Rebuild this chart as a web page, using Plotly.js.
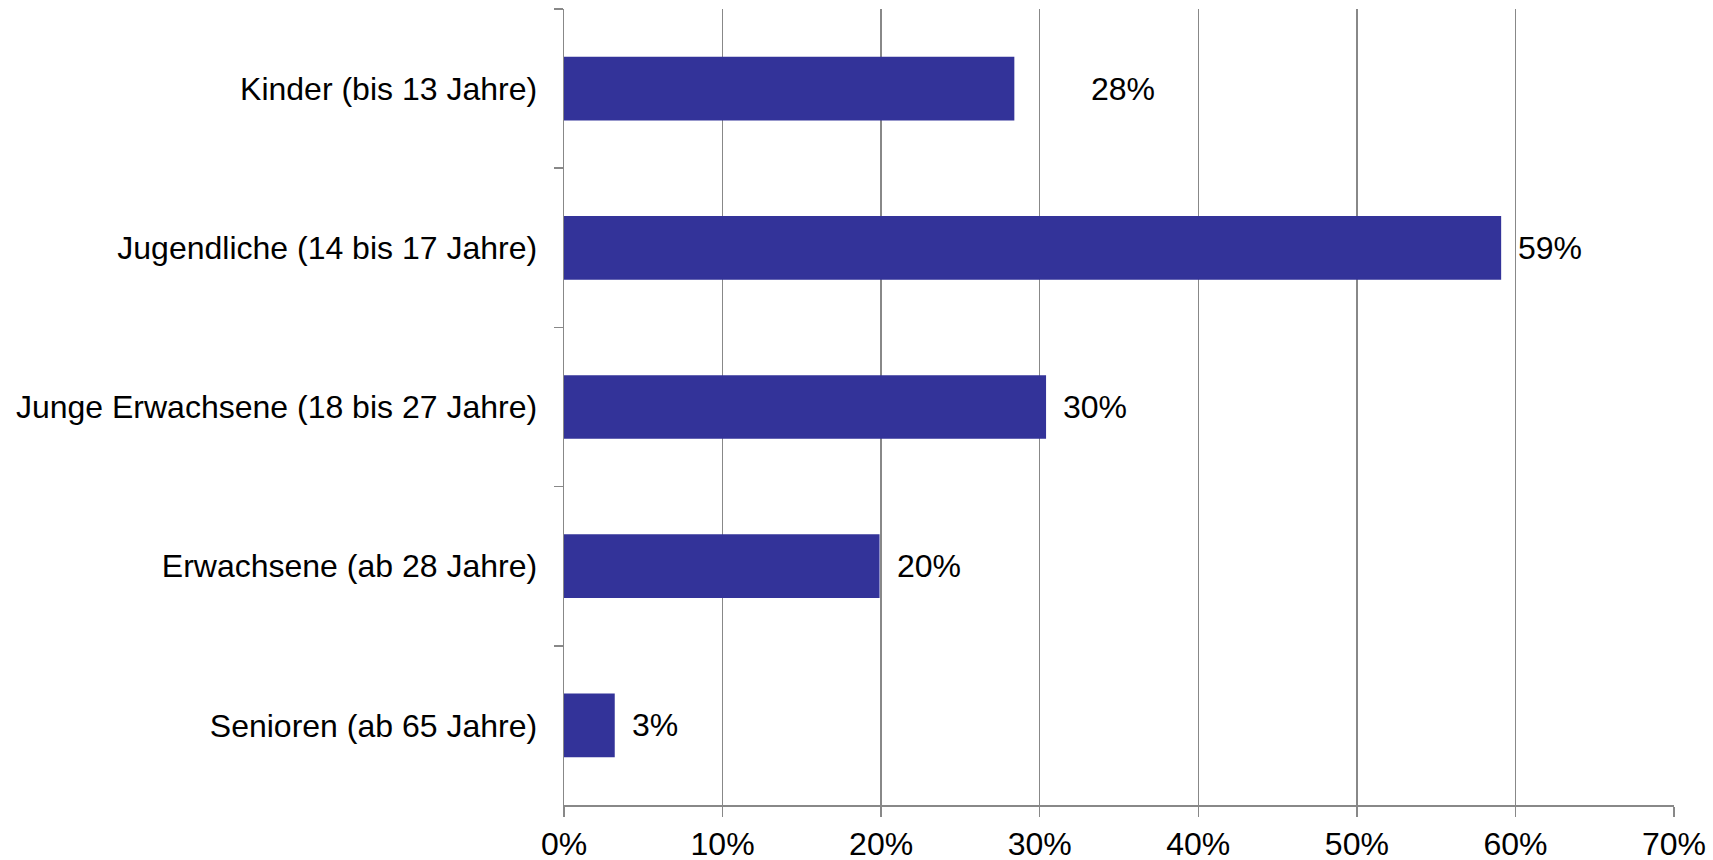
<!DOCTYPE html>
<html>
<head>
<meta charset="utf-8">
<script src="https://cdn.plot.ly/plotly-3.0.1.min.js"></script>
<style>html,body{margin:0;padding:0;background:#fff;}#chart{width:1713px;height:860px;}</style>
</head>
<body>
<div id="chart"></div>
<script>
const categories = [
  "Kinder (bis 13 Jahre)",
  "Jugendliche (14 bis 17 Jahre)",
  "Junge Erwachsene (18 bis 27 Jahre)",
  "Erwachsene (ab 28 Jahre)",
  "Senioren (ab 65 Jahre)"
];
const values = [28.4, 59.1, 30.4, 19.9, 3.2];
const valueLabels = ["28%", "59%", "30%", "20%", "3%"];
const xTickValues = [0, 10, 20, 30, 40, 50, 60, 70];
const xTickLabels = ["0%", "10%", "20%", "30%", "40%", "50%", "60%", "70%"];

const labelShift = [75, 15, 15, 15, 15];
const font = {family: "Liberation Sans, Arial, sans-serif", size: 32, color: "#000"};
const gray = "#888888";

const trace = {
  type: "bar",
  orientation: "h",
  x: values,
  y: categories,
  marker: {color: "#333399", line: {width: 0}},
  hoverinfo: "none"
};

const annotations = values.map((v, i) => ({
  x: v, y: categories[i], xref: "x", yref: "y",
  text: valueLabels[i], showarrow: false,
  xanchor: "left", yanchor: "middle",
  xshift: labelShift[i], font: font
}));

const layout = {
  width: 1713, height: 860,
  margin: {l: 564, r: 39, t: 9, b: 55, pad: 0},
  paper_bgcolor: "#fff", plot_bgcolor: "#fff",
  showlegend: false,
  bargap: 0.6,
  font: font,
  xaxis: {
    range: [0, 70], tickvals: xTickValues, ticktext: xTickLabels,
    showgrid: true, gridcolor: gray, gridwidth: 1.5,
    zeroline: false, showline: true, linecolor: gray, linewidth: 1.5,
    ticks: "outside", ticklen: 10, tickcolor: gray, tickwidth: 1.5,
    tickfont: font, fixedrange: true
  },
  yaxis: {
    type: "category", autorange: "reversed",
    showgrid: false, zeroline: false, showline: true, linecolor: gray, linewidth: 1.5,
    ticks: "outside", ticklen: 9, tickcolor: gray, tickwidth: 1.5,
    tickson: "boundaries", ticklabelstandoff: 19,
    tickfont: font, fixedrange: true
  },
  annotations: annotations
};

Plotly.newPlot("chart", [trace], layout, {displayModeBar: false, staticPlot: true});
</script>
</body>
</html>
